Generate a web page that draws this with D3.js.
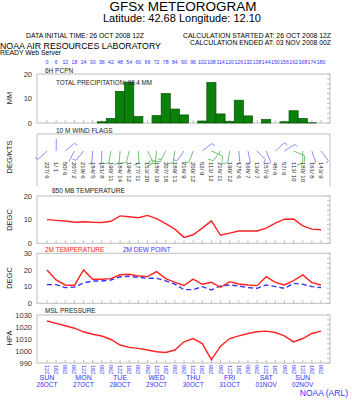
<!DOCTYPE html>
<html><head><meta charset="utf-8">
<script src="https://cdn.jsdelivr.net/npm/d3@7"></script>
<style>html,body{margin:0;padding:0;background:#fff;}svg{display:block;font-family:"Liberation Sans",Arial,sans-serif;}</style>
</head><body>
<script>
const hours = [0,6,12,18,24,30,36,42,48,54,60,66,72,78,84,90,96,102,108,114,120,126,132,138,144,150,156,162,168,174,180];
const precip = [0,0,0,0,0,0,0.5,1.8,12.9,16.7,2.6,0,3.0,12.0,5.7,3.3,0,0.8,16.5,3.7,0.7,9.3,2.9,0,1.4,0,0.5,5.0,1.8,0.1,0];
const windDir = [227,1,50,207,219,184,181,190,184,194,177,153,186,207,189,216,200,52,113,216,190,175,168,136,157,48,57,113,180,161,143];
const windSpd = [6,1,6,2,6,5,8,11,14,12,11,20,19,18,13,9,12,9,12,11,12,6,7,7,9,6,6,10,10,8,9];
const t850 = [10.0,9.7,9.4,8.9,9.1,8.9,8.8,9.3,11.6,11.2,10.8,11.8,10.4,8.3,6.0,2.5,3.6,6.4,9.5,3.4,4.3,5.2,5.2,5.2,6.4,8.5,10.2,10.3,7.4,6.0,5.7];
const t2m = [20,14,11,10.7,20,14.4,14.4,14.8,17.1,17.4,16.4,16,19,14.8,12.6,10.7,14.5,11.4,12.6,9.6,13,11.6,11,10.6,16,12.6,11,13.6,17,12.4,11];
const dew2m = [11.2,11.2,9.4,9.7,12.2,13.4,13.4,14,15.9,16.2,15.6,15,15,13.5,11.5,8.2,8.2,10,8,10.4,11,10.4,9.4,9,11,10,9,12,11.4,10,9.4];
const mslp = [1025,1023,1021,1019,1016,1014,1012.5,1009.6,1005,1003,1002.2,1000.8,999.4,998.8,1000.8,1007.7,1010.4,1006.2,992.8,1004,1010.4,1012.6,1014.6,1016,1016.6,1015.4,1012.6,1007.6,1010.4,1014.6,1016.6];
const hourLabels = ["12Z","18Z","00Z","06Z","12Z","18Z","00Z","06Z","12Z","18Z","00Z","06Z","12Z","18Z","00Z","06Z","12Z","18Z","00Z","06Z","12Z","18Z","00Z","06Z","12Z","18Z","00Z","06Z","12Z","18Z","00Z"];
const dayNames = ["SUN","MON","TUE","WED","THU","FRI","SAT","SUN"];
const dayDates = ["26OCT","27OCT","28OCT","29OCT","30OCT","31OCT","01NOV","02NOV"];
const dayHours = [0,24,48,72,96,120,144,168];
const precipTicks = [0,10,20], t850Ticks = [0,10,20], t2mTicks = [0,10,20,30], mslTicks = [990,1000,1010,1020,1030];

const W=352,H=400;
const svg=d3.select("body").append("svg").attr("width",W).attr("height",H);
const x=d3.scaleLinear().domain([0,180]).range([47,321]);
const step=x(6)-x(0);
const L=37,R=330;
const blue="#3333ff", red="#ff2222", grid="#bdbdbd";

function txt(s,xx,yy,size,opts={}){
  const t=svg.append("text").attr("x",xx).attr("y",yy).attr("font-size",size).attr("fill",opts.fill||"#000").text(s);
  if(opts.anchor)t.attr("text-anchor",opts.anchor);
  if(opts.len)t.attr("textLength",opts.len).attr("lengthAdjust","spacingAndGlyphs");
  if(opts.rot)t.attr("transform",`rotate(${opts.rot},${xx},${yy})`);
  return t;
}
// header
txt("GFSx METEOROGRAM",183,10.5,12.5,{anchor:"middle",len:147});
txt("Latitude: 42.68 Longitude:  12.10",182,21.5,10,{anchor:"middle",len:158});
txt("DATA INITIAL TIME: 26 OCT 2008 12Z",26,38,7,{len:118});
txt("CALCULATION STARTED AT: 26 OCT 2008 12Z",183,38,7,{len:148});
txt("CALCULATION ENDED AT: 03 NOV 2008 00Z",190,45,7,{len:141});
txt("NOAA AIR RESOURCES LABORATORY",0,48.5,9,{len:161});
txt("READY Web Server",0,55,6.5,{len:61});
svg.append("g").selectAll("text").data(hours).join("text")
  .attr("x",d=>x(d)).attr("y",63.5).attr("text-anchor","middle").attr("font-size",5.2).attr("fill",blue).text(d=>d);

function panel(y0,y1,sc,ticks,opts={}){
  const g=svg.append("g");
  if(opts.noBottom){
    g.append("path").attr("d",`M${L},${y1}V${y0}H${R}V${y1}`).attr("fill","none").attr("stroke",grid);
  } else {
    g.append("rect").attr("x",L).attr("y",y0).attr("width",R-L).attr("height",y1-y0).attr("fill","none").attr("stroke",grid);
  }
  if(sc){
    g.selectAll(".yl").data(ticks).join("text").attr("x",32).attr("y",d=>sc(d)).attr("dy","0.35em")
      .attr("text-anchor","end").attr("font-size",7.5).attr("fill","#333").text(d=>d);
    g.selectAll(".bt").data(hours).join("line").attr("x1",d=>x(d)).attr("x2",d=>x(d)).attr("y1",y1).attr("y2",y1-3).attr("stroke",grid);
    const yd=sc.domain(); const mt=d3.range(0,11).map(i=>yd[0]+(yd[1]-yd[0])*i/10);
    g.selectAll(".rt").data(mt).join("line").attr("x1",R).attr("x2",R-3).attr("y1",d=>sc(d)).attr("y2",d=>sc(d)).attr("stroke",grid);
  }
  return g;
}
function ylab(s,cy){txt(s,12,cy,7.5,{anchor:"middle",rot:-90,fill:"#222"});}

// precip
const yP=d3.scaleLinear().domain([0,20]).range([123,74]);
panel(74,123,yP,precipTicks);
svg.append("g").selectAll("rect").data(precip.map((v,i)=>({h:hours[i],v})).filter(d=>d.v>0)).join("rect")
  .attr("x",d=>x(d.h)-step/2).attr("width",step).attr("y",d=>yP(d.v)).attr("height",d=>yP(0)-yP(d.v))
  .attr("fill","#0b800b").attr("stroke","#035203").attr("stroke-width",0.7);
txt("6H PCPN",45,73,6.5,{fill:"#222"});
txt("TOTAL PRECIPITATION:  99.4 MM",56,85,6.5,{len:96,fill:"#222"});
ylab("MM",98);

// wind
panel(134,186,null,null,{noBottom:true});
txt("10 M  WIND FLAGS",56,132.5,6.5,{fill:"#222"});
ylab("DEG/KTS",157);
const wg=svg.append("g");
hours.forEach((h,i)=>{
  const d=windDir[i]*Math.PI/180, s=windSpd[i];
  const bx=x(h), by=151, len=12;
  const ex=bx+Math.sin(d)*len, ey=by-Math.cos(d)*len;
  const col=s>=10?"#66bb66":"#8080ff";
  let p=`M${bx},${by}L${ex},${ey}`;
  let rem=s, pos=0;
  const fa=d+70*Math.PI/180;
  while(rem>=5){
    const fl=rem>=10?6:3.5;
    const sx=bx+Math.sin(d)*(len-pos), sy=by-Math.cos(d)*(len-pos);
    p+=`M${sx},${sy}L${sx+Math.sin(fa)*fl},${sy-Math.cos(fa)*fl}`;
    rem-=rem>=10?10:5; pos+=2.5;
  }
  wg.append("path").attr("d",p).attr("fill","none").attr("stroke",col).attr("stroke-width",0.9);
  txt(windDir[i]+"/ "+s,bx,162,6,{rot:90,fill:"#222"}).attr("dy","0.35em");
});

// 850
const y850=d3.scaleLinear().domain([0,20]).range([243.3,196]);
panel(196,243.3,y850,t850Ticks);
txt("850 MB  TEMPERATURE",52,193,6.5,{fill:"#222"});
ylab("DEGC",220);
const line=sc=>d3.line().x((d,i)=>x(hours[i])).y(d=>sc(d));
svg.append("path").datum(t850).attr("d",line(y850)).attr("fill","none").attr("stroke",red).attr("stroke-width",1.4);

// 2m
const y2=d3.scaleLinear().domain([0,30]).range([303.3,253.3]);
panel(253.3,303.3,y2,t2mTicks);
txt("2M TEMPERATURE",45,252,6.5,{fill:red});
txt("2M  DEW POINT",123,252,6.5,{fill:blue});
ylab("DEGC",278);
svg.append("path").datum(dew2m).attr("d",line(y2)).attr("fill","none").attr("stroke",blue).attr("stroke-width",1.4).attr("stroke-dasharray","5,3");
svg.append("path").datum(t2m).attr("d",line(y2)).attr("fill","none").attr("stroke",red).attr("stroke-width",1.4);

// msl
const yM=d3.scaleLinear().domain([990,1030]).range([363,315]);
panel(315,363,yM,mslTicks);
txt("MSL PRESSURE",45,313,6.5,{fill:"#222"});
ylab("HPA",338);
svg.append("path").datum(mslp).attr("d",line(yM)).attr("fill","none").attr("stroke",red).attr("stroke-width",1.4);

// x labels
hours.forEach((h,i)=>{ txt(hourLabels[i],x(h),365,5.5,{rot:90,fill:blue}).attr("dy","0.35em"); });
dayHours.forEach((h,i)=>{
  txt(dayNames[i],x(h),380,7,{anchor:"middle",fill:blue});
  txt(dayDates[i],x(h),386.5,6.5,{anchor:"middle",fill:blue});
});
txt("NOAA (ARL)",348,396,8.5,{anchor:"end",fill:blue});
</script>
</body></html>
